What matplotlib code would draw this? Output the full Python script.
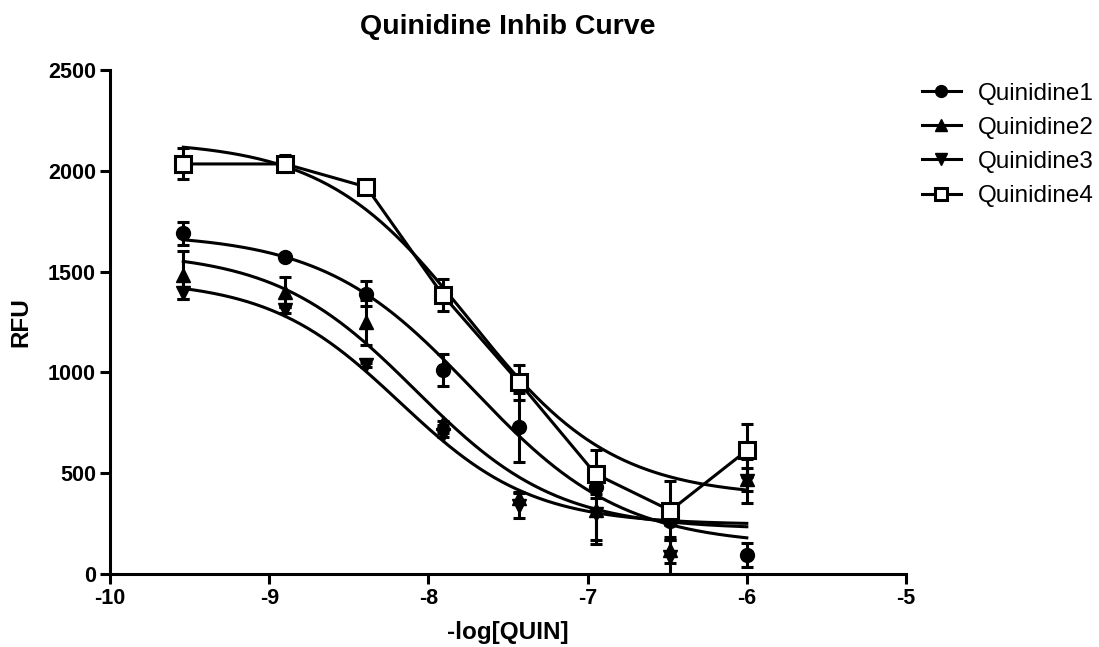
import numpy as np
import matplotlib
matplotlib.use("Agg")
import matplotlib.pyplot as plt
from matplotlib.lines import Line2D

plt.rcParams['font.family'] = ['Liberation Sans', 'DejaVu Sans']

# log concentrations
log_conc = [-9.54, -8.9, -8.39, -7.91, -7.43, -6.95, -6.48, -6.0]

series_names = ["Quinidine1", "Quinidine2", "Quinidine3", "Quinidine4"]

q1_mean = [1690, 1572, 1390, 1012, 727, 430, 262, 94]
q1_err = [58, 0, 62, 77, 172, 35, 20, 60]

q2_mean = [1483, 1399, 1248, 748, 378, 320, 118, 470]
q2_err = [118, 75, 112, 10, 30, 150, 65, 57]

q3_mean = [1394, 1310, 1037, 690, 338, 300, 84, 461]
q3_err = [32, 15, 10, 10, 62, 150, 85, 109]

q4_mean = [2034, 2034, 1920, 1384, 950, 496, 315, 613]
q4_err = [77, 42, 10, 80, 87, 118, 145, 133]

# fitted 4-parameter logistic parameters: (top, bottom, logIC50, hill)
q1_fit = (1690, 140, -7.72, 0.92)
q2_fit = (1600, 222, -8.08, 0.98)
q3_fit = (1460, 245, -8.18, 1.05)
q4_fit = (2150, 380, -7.746, 0.96)

markers = ['o', '^', 'v', 's']

fig = plt.figure(figsize=(10.99, 6.47), dpi=100)
ax = fig.add_axes([0.1001, 0.1128, 0.7243, 0.779])

means = [q1_mean, q2_mean, q3_mean, q4_mean]
errs = [q1_err, q2_err, q3_err, q4_err]
fits = [q1_fit, q2_fit, q3_fit, q4_fit]

def logistic(x, p):
    top, bottom, c, h = p
    return bottom + (top - bottom) / (1 + 10 ** ((x - c) * h))

xs = np.linspace(min(log_conc), max(log_conc), 300)

for i in range(4):
    x = np.array(log_conc)
    y = np.array(means[i])
    e = np.array(errs[i])
    ax.errorbar(x, y, yerr=e, fmt='none', ecolor='black', elinewidth=2.2,
                capsize=4.2, capthick=2.2, zorder=3)
    ax.plot(xs, logistic(xs, fits[i]), color='black', lw=2.2, zorder=2)
    if i == 3:
        ax.plot(x, y, color='black', lw=2.2, zorder=2)
        ax.plot(x, y, linestyle='none', marker='s', ms=11, mfc='white',
                mec='black', mew=2.2, zorder=5)
    else:
        ax.plot(x, y, linestyle='none', marker=markers[i], ms=10,
                color='black', zorder=4)

ax.set_xlim(-10, -5)
ax.set_ylim(0, 2500)
ax.set_xticks([-10, -9, -8, -7, -6, -5])
ax.set_xticklabels(["-10", "-9", "-8", "-7", "-6", "-5"])
ax.set_yticks([0, 500, 1000, 1500, 2000, 2500])
ax.set_yticklabels(["0", "500", "1000", "1500", "2000", "2500"])

for s in ['top', 'right']:
    ax.spines[s].set_visible(False)
for s in ['left', 'bottom']:
    ax.spines[s].set_linewidth(2.2)
ax.tick_params(axis='both', direction='out', length=7, width=2.2,
               labelsize=15.5, pad=3)
for lab in ax.get_xticklabels() + ax.get_yticklabels():
    lab.set_fontweight('bold')

ax.set_xlabel("-log[QUIN]", fontsize=17.5, fontweight='bold', labelpad=9)
ax.set_ylabel("RFU", fontsize=17.5, fontweight='bold', labelpad=11)
ax.set_title("Quinidine Inhib Curve", fontsize=20.5, fontweight='bold', pad=26)

handles = []
for i in range(4):
    if i == 3:
        h = Line2D([], [], color='black', lw=2.2, marker='s', ms=9,
                   mfc='white', mec='black', mew=2.2)
    else:
        h = Line2D([], [], color='black', lw=2.2, marker=markers[i], ms=8.5)
    handles.append(h)
ax.legend(handles, series_names, loc='upper left', bbox_to_anchor=(1.02, 0.975),
          frameon=False, fontsize=17.5, handlelength=1.6, labelspacing=0.5,
          handletextpad=0.7, borderpad=0, borderaxespad=0)

fig.savefig("out.png", dpi=100)
